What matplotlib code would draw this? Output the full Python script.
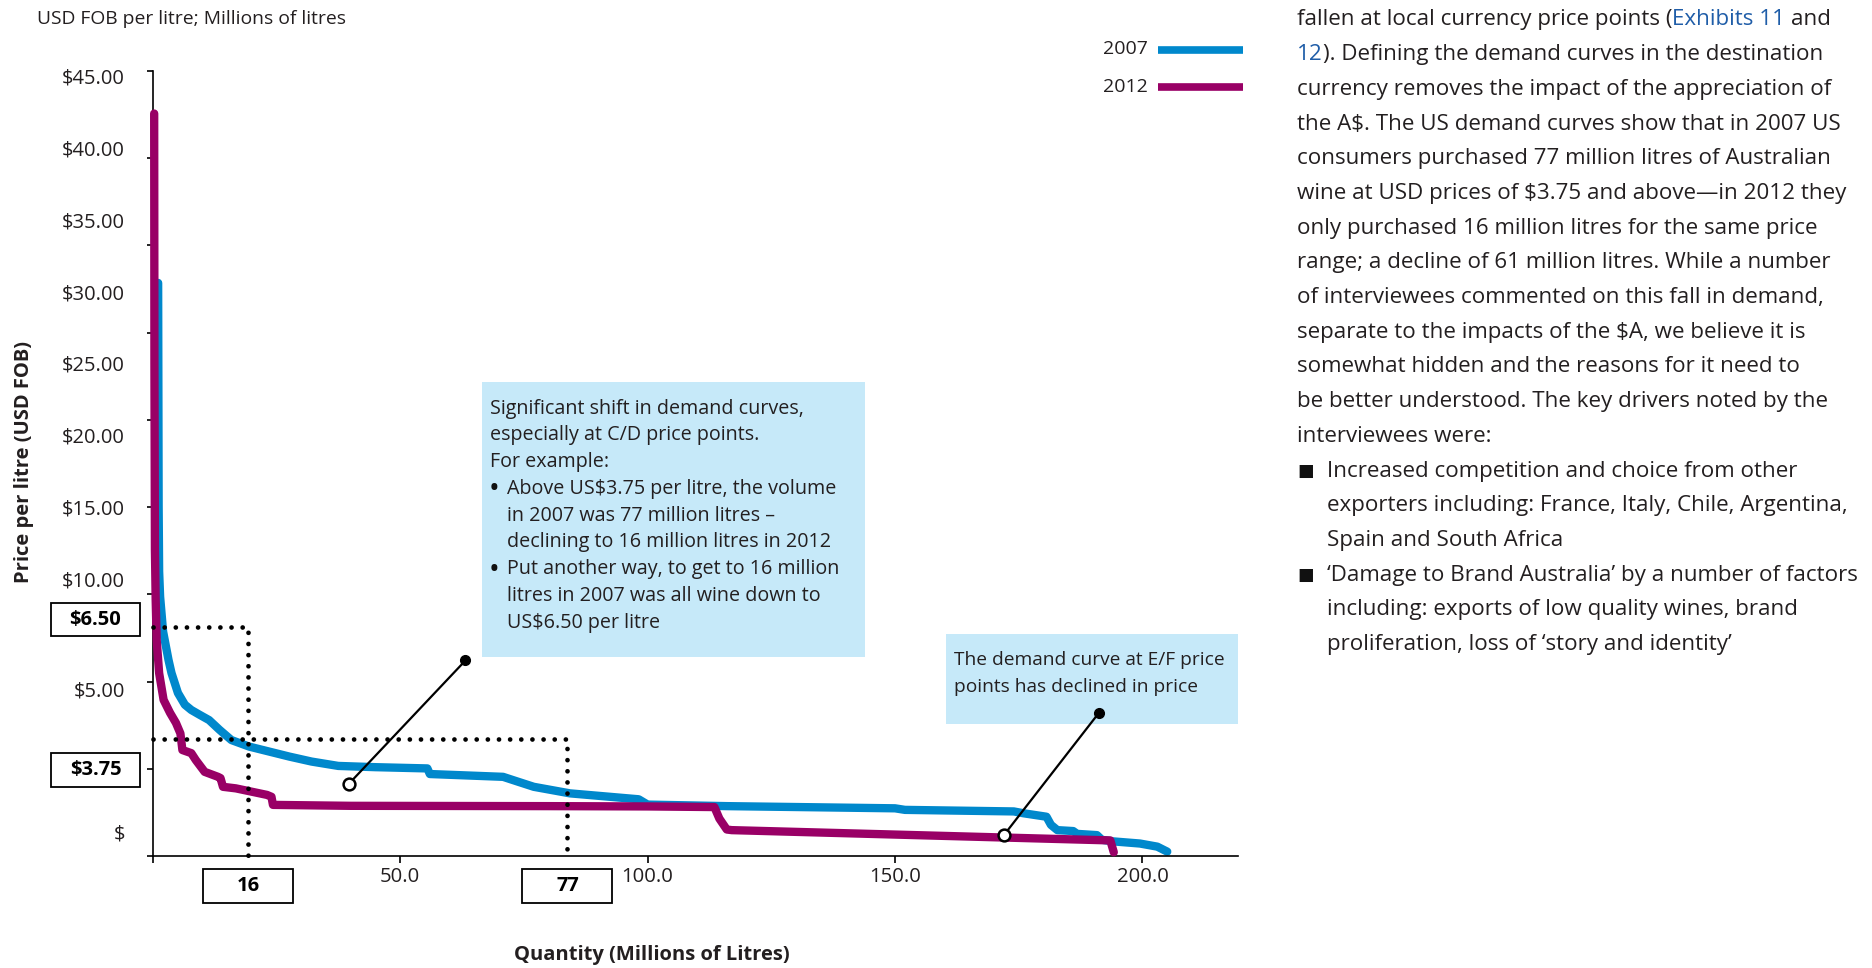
import numpy as np
import matplotlib
matplotlib.use("Agg")
import matplotlib.pyplot as plt
from matplotlib.patches import Rectangle
from matplotlib.lines import Line2D

plt.rcParams['font.family'] = ['Open Sans', 'DejaVu Sans']

# ---------------- data ----------------
qty_2007 = [1.1, 1.2, 1.3, 1.5, 2.1, 3.2, 3.8, 5.1, 6.5, 7.8, 9.5, 11.4, 13.5, 15.9,
            19.5, 27.6, 32.1, 37.5, 45.0, 55.5, 56.0, 70.8, 73.5, 77.0, 84.3, 98.2,
            100.0, 116.0, 150.0, 152.0, 174.0, 176.0, 180.6, 181.5, 182.8, 186.0,
            186.8, 190.8, 191.8, 194.0, 199.5, 203.0, 205.0]
price_2007 = [30.6, 15.0, 10.5, 8.7, 6.4, 5.7, 5.38, 4.89, 4.6, 4.47, 4.35, 4.22, 3.98, 3.72,
              3.51, 3.19, 3.03, 2.89, 2.85, 2.81, 2.63, 2.54, 2.40, 2.22, 2.01, 1.82,
              1.65, 1.60, 1.53, 1.48, 1.43, 1.37, 1.26, 1.00, 0.83, 0.80,
              0.71, 0.67, 0.52, 0.47, 0.40, 0.30, 0.14]

qty_2012 = [0.3, 0.35, 0.45, 0.6, 0.8, 1.3, 2.2, 3.5, 4.7, 5.6, 6.0, 7.8, 8.7, 10.5,
            13.2, 13.7, 14.2, 16.8, 23.1, 24.0, 24.3, 40.0, 80.0, 100.0, 113.5, 114.5,
            116.0, 117.0, 193.5, 194.2]
price_2012 = [42.4, 25.0, 12.0, 8.5, 6.2, 5.38, 4.72, 4.40, 4.15, 3.89, 3.40, 3.30, 3.08, 2.70,
              2.54, 2.50, 2.22, 2.17, 1.96, 1.90, 1.64, 1.61, 1.60, 1.59, 1.57, 1.20,
              0.85, 0.83, 0.50, 0.12]

series_names = ["2007", "2012"]
series_colors = ["#0088CC", "#990066"]

y_label_values = [45, 40, 35, 30, 25, 20, 15, 10, 5, 0.78]
y_label_text = ["$45.00", "$40.00", "$35.00", "$30.00", "$25.00", "$20.00",
                "$15.00", "$10.00", "$5.00", "$"]
x_tick_values = [0, 50, 100, 150, 200]
x_tick_text = ["", "50.0", "100.0", "150.0", "200.0"]

guide_price = [6.50, 3.75]
guide_qty = [19.2, 83.7]
guide_price_text = ["$6.50", "$3.75"]
guide_qty_text = ["16", "77"]

callout_dot_x = [63.2, 191.2]
callout_dot_y = [5.69, 4.40]
callout_ring_x = [39.6, 172.0]
callout_ring_y = [2.31, 0.67]

# hand-drawn (non linear) price axis of the original: value -> axis position
V_ANCH = np.array([-10, 0, 3.75, 5.0, 6.5, 10, 45, 100])
T_ANCH = np.array([-17.9, 0, 6.7, 9.6, 13.1, 15.9, 44.7, 89.97])


def fwd(v):
    return np.interp(v, V_ANCH, T_ANCH)


def inv(t):
    return np.interp(t, T_ANCH, V_ANCH)


# ---------------- figure ----------------
W, H = 1872, 968
fig = plt.figure(figsize=(W / 100, H / 100), dpi=100)
renderer = fig.canvas.get_renderer()
TXT = "#231F20"
BOXC = "#C6E9F9"
LINK = "#1F5DA8"


def fx(px):
    return px / W


def fy(py):
    return 1 - py / H


def width_px(s, size, weight='normal'):
    t = fig.text(0, 0, s, fontsize=size, fontweight=weight, parse_math=False)
    w = t.get_window_extent(renderer=renderer).width
    t.remove()
    return w


def fit(s, target, weight='normal'):
    return 14.0 * target / width_px(s, 14.0, weight)


def txt(px, py, s, **kw):
    kw.setdefault('color', TXT)
    kw.setdefault('parse_math', False)
    kw.setdefault('va', 'baseline')
    return fig.text(fx(px), fy(py), s, **kw)


fs_body = fit("wine at USD prices of $3.75 and above—in 2012 they", 553)
fs_box = fit("Above US$3.75 per litre, the volume", 330)
fs_box2 = fit("The demand curve at E/F price", 273)
fs_tick = fit("$45.00", 63)
fs_xtick = fit("100.0", 52)
fs_title = fit("USD FOB per litre; Millions of litres", 310)
fs_bold_box = fit("$6.50", 52, 'bold')
fs_ylab = fit("Price per litre (USD FOB)", 243, 'bold')
fs_xlab = fit("Quantity (Millions of Litres)", 277, 'bold')
fs_leg = fit("2007", 45)

ax = fig.add_axes([fx(152.7), fy(856), (1238 - 152.7) / W, (856 - 71) / H])
ax.set_yscale('function', functions=(fwd, inv))
ax.set_xlim(0, 219.3)
ax.set_ylim(0, inv(45))

for q, p, c, z in [(qty_2007, price_2007, series_colors[0], 2),
                   (qty_2012, price_2012, series_colors[1], 3)]:
    ax.plot(q, p, color=c, lw=6, solid_capstyle='round', solid_joinstyle='round',
            zorder=z, clip_on=False)

for gq, gp in zip(guide_qty, guide_price):
    ax.plot([0, gq, gq], [gp, gp, 0], color='black', lw=3.4,
            linestyle=(0, (0.01, 2.35)), dash_capstyle='round', zorder=4, clip_on=False)

# spines / ticks
for s in ['top', 'right']:
    ax.spines[s].set_visible(False)
for s in ['left', 'bottom']:
    ax.spines[s].set_linewidth(1.2)
    ax.spines[s].set_color('black')

ax.set_yticks(inv(np.arange(0, 50, 5)), labels=[""] * 10)
ax.set_yticks(y_label_values, labels=y_label_text, minor=True)
ax.tick_params(axis='y', which='major', length=4.5, width=1.2, direction='out')
ax.tick_params(axis='y', which='minor', length=0, pad=19.9, labelsize=fs_tick,
               labelcolor=TXT)
ax.set_xticks(x_tick_values, labels=x_tick_text)
ax.tick_params(axis='x', which='major', length=5, width=1.2, direction='out',
               labelsize=fs_xtick, labelcolor=TXT, pad=3)
ax.tick_params(axis='x', which='minor', length=0)

# callout boxes (inside axes area)
box1 = (482, 382, 865, 657)
box2 = (946, 634, 1238, 724)
for (x0, y0, x1, y1) in [box1, box2]:
    ax.add_patch(Rectangle((fx(x0), fy(y1)), (x1 - x0) / W, (y1 - y0) / H,
                           transform=fig.transFigure, facecolor=BOXC,
                           edgecolor='none', zorder=5, clip_on=False))

for dx, dy, rx, ry in zip(callout_dot_x, callout_dot_y, callout_ring_x, callout_ring_y):
    ax.plot([dx, rx], [dy, ry], color='black', lw=1.6, zorder=7, clip_on=False)
    ax.plot([dx], [dy], 'o', ms=7, color='black', zorder=8, clip_on=False)
    ax.plot([rx], [ry], 'o', ms=8.5, mfc='white', mec='black', mew=1.8, zorder=8,
            clip_on=False)

box1_lines = [("", "Significant shift in demand curves,"),
              ("", "especially at C/D price points."),
              ("", "For example:"),
              ("•", "Above US$3.75 per litre, the volume"),
              ("", "in 2007 was 77 million litres –"),
              ("", "declining to 16 million litres in 2012"),
              ("•", "Put another way, to get to 16 million"),
              ("", "litres in 2007 was all wine down to"),
              ("", "US$6.50 per litre")]
em_box = fs_box * 100 / 72
for i, (b, s) in enumerate(box1_lines):
    base = 407 + i * 26.75 + 0.33 * em_box
    if b:
        txt(489, base + 3.5, b, fontsize=fs_box * 1.45, zorder=9, color='#111111')
    x = 490 if (i < 3) else 507
    txt(x, base, s, fontsize=fs_box, zorder=9)

em_box2 = fs_box2 * 100 / 72
for i, s in enumerate(["The demand curve at E/F price", "points has declined in price"]):
    txt(954, 659 + i * 27 + 0.33 * em_box2, s, fontsize=fs_box2, zorder=9)

# price / quantity guide labels
def label_box(cx, cy, w, h, s):
    fig.add_artist(Rectangle((fx(cx - w / 2), fy(cy + h / 2)), w / W, h / H,
                             transform=fig.transFigure, facecolor='white',
                             edgecolor='black', lw=1.3))
    fig.text(fx(cx), fy(cy), s, ha='center', va='center', fontsize=fs_bold_box,
             fontweight='bold', color='black', parse_math=False)


label_box(95.5, 619.5, 89, 33, guide_price_text[0])
label_box(95.5, 770, 89, 34, guide_price_text[1])
for gq, s in zip(guide_qty, guide_qty_text):
    px = ax.transData.transform((gq, 1))[0]
    label_box(px + 0.5, 886, 90, 34, s)

# axis titles
em_t = fs_title * 100 / 72
txt(37, 18 + 0.33 * em_t, "USD FOB per litre; Millions of litres", fontsize=fs_title)
fig.text(fx(24), fy(462), "Price per litre (USD FOB)", rotation=90, ha='center',
         va='center', fontsize=fs_ylab, fontweight='bold', color=TXT)
fig.text(fx(652), fy(955), "Quantity (Millions of Litres)", ha='center', va='center',
         fontsize=fs_xlab, fontweight='bold', color=TXT)

# legend
for i, (name, c) in enumerate(zip(series_names, series_colors)):
    yy = 49.5 + i * 37
    fig.text(fx(1148), fy(yy), name, ha='right', va='center', fontsize=fs_leg,
             color=TXT)
    fig.add_artist(Line2D([fx(1158), fx(1243)], [fy(yy), fy(yy)],
                          transform=fig.transFigure, color=c, lw=5.5,
                          solid_capstyle='butt'))

# body text on the right
em_b = fs_body * 100 / 72
BX = 1297


def base_y(k):
    return 18 + k * 34.7 + 0.33 * em_b


def width_at(s):
    return width_px(s, fs_body)


# line 1 with blue link
l1 = "fallen at local currency price points (Exhibits 11 and"
txt(BX, base_y(0), "fallen at local currency price points (", fontsize=fs_body)
xb = BX + width_at(l1) - width_at("Exhibits 11 and")
txt(xb, base_y(0), "Exhibits 11", fontsize=fs_body, color=LINK)
txt(BX + width_at(l1) - width_at("and"), base_y(0), "and", fontsize=fs_body)
# line 2
l2 = "12). Defining the demand curves in the destination"
txt(BX, base_y(1), "12", fontsize=fs_body, color=LINK)
rest = "). Defining the demand curves in the destination"
txt(BX + width_at(l2) - width_at(rest), base_y(1), rest, fontsize=fs_body)

body = ["currency removes the impact of the appreciation of",
        "the A$. The US demand curves show that in 2007 US",
        "consumers purchased 77 million litres of Australian",
        "wine at USD prices of $3.75 and above—in 2012 they",
        "only purchased 16 million litres for the same price",
        "range; a decline of 61 million litres. While a number",
        "of interviewees commented on this fall in demand,",
        "separate to the impacts of the $A, we believe it is",
        "somewhat hidden and the reasons for it need to",
        "be better understood. The key drivers noted by the",
        "interviewees were:"]
for k, s in enumerate(body):
    txt(BX, base_y(k + 2), s, fontsize=fs_body)

bullets = [("■", "Increased competition and choice from other"),
           ("", "exporters including: France, Italy, Chile, Argentina,"),
           ("", "Spain and South Africa"),
           ("■", "‘Damage to Brand Australia’ by a number of factors"),
           ("", "including: exports of low quality wines, brand"),
           ("", "proliferation, loss of ‘story and identity’")]
for k, (b, s) in enumerate(bullets):
    yb = base_y(k + 13)
    if b:
        txt(BX, yb - 1, b, fontsize=fs_body * 0.78, family='DejaVu Sans', color='#111111')
    txt(1327, yb, s, fontsize=fs_body)

fig.savefig("out.png", dpi=100)
